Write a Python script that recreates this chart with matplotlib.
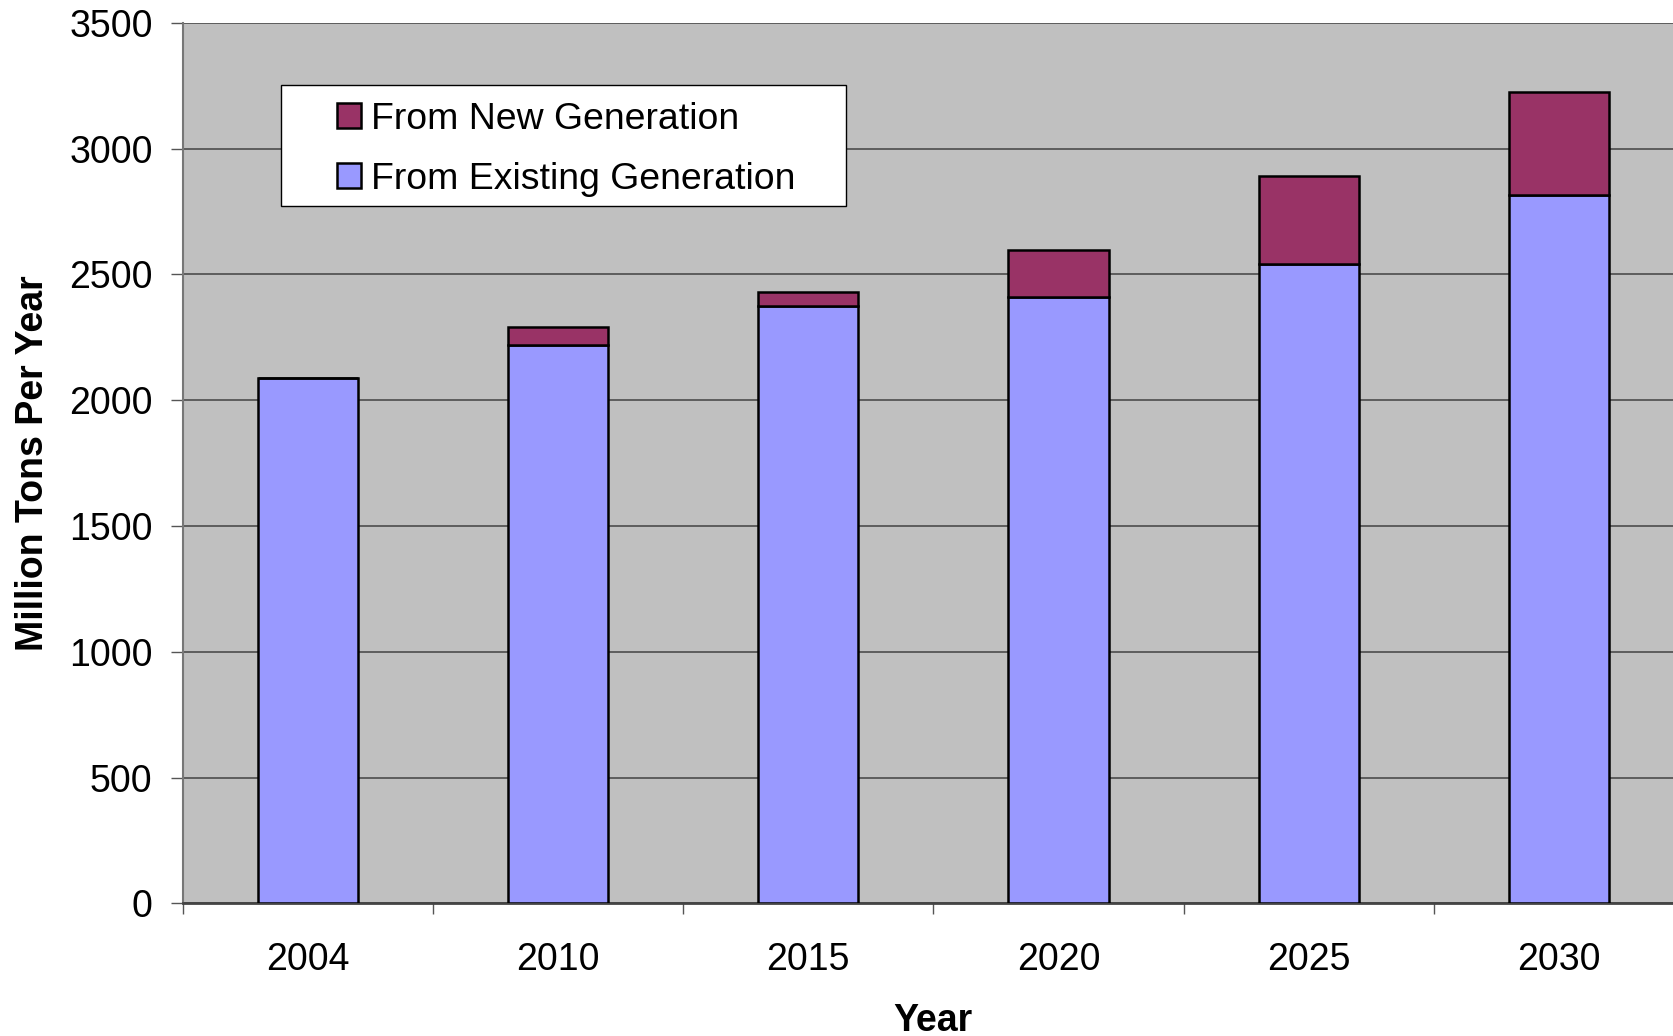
import matplotlib.pyplot as plt
from matplotlib.patches import Patch, Rectangle

plt.rcParams['font.family'] = ['Liberation Sans', 'DejaVu Sans']

years = ['2004', '2010', '2015', '2020', '2025', '2030']
existing = [2090, 2220, 2375, 2410, 2540, 2815]
new = [0, 70, 55, 185, 350, 410]
yticks = [0, 500, 1000, 1500, 2000, 2500, 3000, 3500]

EXIST_COLOR = '#9999FF'
NEW_COLOR = '#993366'

fig = plt.figure(figsize=(16.74, 10.36), dpi=100)
ax = fig.add_axes([0.1091, 0.1279, 0.8969, 0.8502])
ax.set_facecolor('#C0C0C0')

x = range(len(years))
ax.bar(x, existing, width=0.4, color=EXIST_COLOR, edgecolor='black', linewidth=1.8, zorder=3)
ax.bar(x, new, width=0.4, bottom=existing, color=NEW_COLOR, edgecolor='black', linewidth=1.8, zorder=3)

ax.set_xlim(-0.5, len(years) - 0.5)
ax.set_ylim(0, 3500)
ax.set_yticks(yticks)
ax.set_xticks(list(x))
ax.set_xticklabels(years)
ax.set_xticks([i - 0.5 for i in range(len(years) + 1)], minor=True)

ax.yaxis.grid(True, color='#555555', linewidth=1.3, zorder=1)
ax.set_axisbelow(True)

ax.tick_params(axis='y', labelsize=27, length=8.6, width=1.0, color='#555555', pad=13)
ax.tick_params(axis='x', which='major', labelsize=27, length=0, pad=27.5)
ax.tick_params(axis='x', which='minor', length=8, width=1.0, color='#555555')

ax.spines['top'].set_visible(False)
ax.spines['right'].set_visible(False)
ax.spines['left'].set_color('#777777')
ax.spines['left'].set_linewidth(1.5)
ax.spines['bottom'].set_color('#444444')
ax.spines['bottom'].set_linewidth(2)

ax.set_ylabel('Million Tons Per Year', fontsize=27, fontweight='bold')
ax.yaxis.label.set_va('center')
ax.yaxis.set_label_coords(-0.0996, 0.5)
ax.set_xlabel('Year', fontsize=27, fontweight='bold')
ax.xaxis.label.set_va('center')
ax.xaxis.set_label_coords(0.5, -0.133)

# legend box drawn separately so its padding can be uneven
fig.patches.append(Rectangle((281 / 1674, 1 - 206 / 1036), 565 / 1674, 121 / 1036,
                             transform=fig.transFigure, facecolor='white',
                             edgecolor='black', linewidth=1.0, zorder=4))
handles = [Patch(facecolor=NEW_COLOR, edgecolor='black', linewidth=1.8, label='From New Generation'),
           Patch(facecolor=EXIST_COLOR, edgecolor='black', linewidth=1.8, label='From Existing Generation')]
leg = fig.legend(handles=handles, loc='upper left', bbox_to_anchor=(337 / 1674, 1 - 102 / 1036),
                 frameon=False, fontsize=26.9, handlelength=0.65, handleheight=0.65,
                 handletextpad=0.27, labelspacing=0.66, borderpad=0, borderaxespad=0)
leg.set_zorder(5)

fig.savefig('out.png', dpi=100)
